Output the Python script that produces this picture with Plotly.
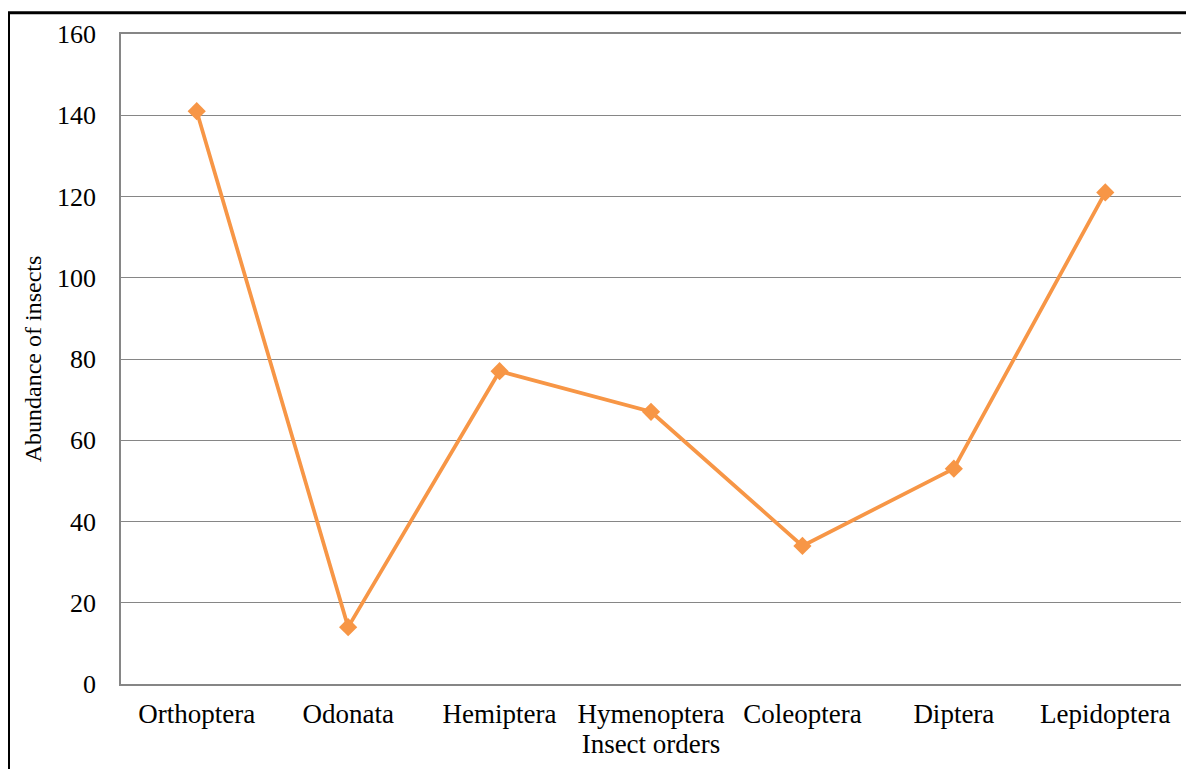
import plotly.graph_objects as go

categories = ["Orthoptera", "Odonata", "Hemiptera", "Hymenoptera", "Coleoptera", "Diptera", "Lepidoptera"]
abundance = [141, 14, 77, 67, 34, 53, 121]
y_ticks = [0, 20, 40, 60, 80, 100, 120, 140, 160]

# page body has an 8px margin, so figure coords = screen coords - 8
W, H = 1186, 761
L, R, T, B = 113, 13, 21, 85
pw, ph = W - L - R, H - T - B

def px(x):
    return (x - L) / pw

def py(y):
    return (H - B - y) / ph

fig = go.Figure()
fig.add_trace(go.Scatter(
    x=categories, y=abundance, mode="lines+markers",
    line=dict(color="#F79646", width=3.75),
    marker=dict(symbol="diamond", size=14, color="#F79646"),
    showlegend=False,
))

fam = "Liberation Serif, Times New Roman, serif"
xtick_font = dict(family=fam, size=27, color="#000000")
ytick_font = dict(family=fam, size=26, color="#000000")
xtitle_font = dict(family=fam, size=27, color="#000000")
ytitle_font = dict(family=fam, size=24, color="#000000")

fig.update_layout(
    width=W, height=H,
    margin=dict(l=L, r=R, t=T, b=B, pad=0),
    paper_bgcolor="white", plot_bgcolor="white",
    font=dict(family=fam, color="#000000"),
    xaxis=dict(
        range=[-0.5, 6.5], showgrid=False, showline=True, mirror=True,
        linecolor="#868686", linewidth=1.5,
        ticks="", ticklabelstandoff=5, tickfont=xtick_font,
        title=dict(text="Insect orders", font=xtitle_font, standoff=5),
    ),
    yaxis=dict(
        range=[0, 160], tickvals=y_ticks, showgrid=True, gridcolor="#868686", gridwidth=1,
        showline=True, linecolor="#868686", linewidth=1.5, zeroline=False,
        ticks="", ticklabelstandoff=18, tickfont=ytick_font,
        title=dict(text="Abundance of insects", font=ytitle_font, standoff=9),
    ),
    shapes=[dict(
        type="rect", xref="paper", yref="paper",
        x0=px(0.5), x1=px(W + 10), y0=py(H + 10), y1=py(-0.5),
        line=dict(color="black", width=3), fillcolor="rgba(0,0,0,0)", layer="above",
    )],
)

fig.write_html("out.html")
